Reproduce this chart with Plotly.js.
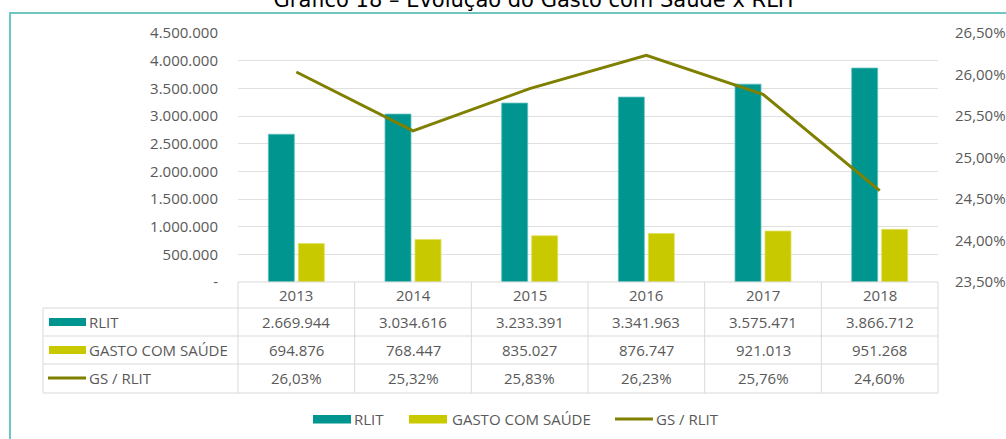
<!DOCTYPE html>
<html><head><meta charset="utf-8">
<script src="https://cdn.plot.ly/plotly-3.0.1.min.js"></script>
<style>html,body{margin:0;padding:0;background:#fff;overflow:hidden;} #chart{width:1006px;height:439px;}</style>
</head><body><div id="chart"></div>
<script>
// ---- data ----
const years = ['2013', '2014', '2015', '2016', '2017', '2018'];
const rlit = [2669944, 3034616, 3233391, 3341963, 3575471, 3866712];
const gastoSaude = [694876, 768447, 835027, 876747, 921013, 951268];
const gsRlit = [26.03, 25.32, 25.83, 26.23, 25.76, 24.60];
const seriesNames = ['RLIT', 'GASTO COM SAÚDE', 'GS / RLIT'];
const leftTickVals = [0, 500000, 1000000, 1500000, 2000000, 2500000, 3000000, 3500000, 4000000, 4500000];
const leftTickText = ['-', '500.000', '1.000.000', '1.500.000', '2.000.000', '2.500.000', '3.000.000', '3.500.000', '4.000.000', '4.500.000'];
const rightTickVals = [23.5, 24.0, 24.5, 25.0, 25.5, 26.0, 26.5];
const rightTickText = ['23,50%', '24,00%', '24,50%', '25,00%', '25,50%', '26,00%', '26,50%'];
const titleText = 'Gráfico 18 – Evolução do Gasto com Saúde x RLIT';

// ---- style ----
const TEAL = '#00968F', YELLOW = '#C9C900', OLIVE = '#7F7F00';
const GRAY = '#595959', GRID = '#E0E0E0', TBL = '#D9D9D9', FRAME = '#6EC6C3';
const FONT = 'Open Sans, Lato, sans-serif';

// layout geometry (pixels)
const L = 238, R = 938, T = 33, B = 282;
const px = p => (p - L) / (R - L);
const py = p => (B - p) / (B - T);
const colX = i => (i + 0.5) / years.length;   // centre of category column in paper units

const fmtInt = v => String(v).replace(/\B(?=(\d{3})+(?!\d))/g, '.');
const fmtPct = v => v.toFixed(2).replace('.', ',') + '%';

const traces = [
  {type: 'bar', name: seriesNames[0], x: years, y: rlit, marker: {color: TEAL, line: {color: '#5FC2BD', width: 0.8}}, yaxis: 'y', showlegend: false, hoverinfo: 'skip'},
  {type: 'bar', name: seriesNames[1], x: years, y: gastoSaude, marker: {color: YELLOW, line: {color: '#E0E060', width: 0.8}}, yaxis: 'y', showlegend: false, hoverinfo: 'skip'},
  {type: 'scatter', mode: 'lines', name: seriesNames[2], x: years, y: gsRlit, line: {color: OLIVE, width: 3}, yaxis: 'y2', showlegend: false, hoverinfo: 'skip'}
];

const shapes = [];
const annotations = [];
const line = (x0, y0, x1, y1, color, width) => ({type: 'line', xref: 'paper', yref: 'paper', x0, y0, x1, y1, line: {color: color, width: width}, layer: 'above'});

// outer frame
shapes.push({type: 'rect', xref: 'paper', yref: 'paper', x0: px(10), y0: py(13), x1: px(1040), y1: py(470), line: {color: FRAME, width: 2}, layer: 'above'});

// table lines
shapes.push(line(px(L), py(282), px(R), py(282), TBL, 1));
[308, 336, 364, 393].forEach(y => shapes.push(line(px(43), py(y), px(R), py(y), TBL, 1)));
shapes.push(line(px(43), py(308), px(43), py(393), TBL, 1));
for (let i = 0; i <= years.length; i++) shapes.push(line(i / years.length, py(282), i / years.length, py(393), TBL, 1));

// table content
const rowY = [295, 322, 350, 378];
const cellFont = {family: FONT, size: 15, color: GRAY};
const cell = (x, y, text, anchor) => ({xref: 'paper', yref: 'paper', x: x, y: y, text: text, showarrow: false, font: cellFont, xanchor: anchor, yanchor: 'middle'});
years.forEach((yr, i) => {
  annotations.push(cell(colX(i), py(rowY[0]), yr, 'center'));
  annotations.push(cell(colX(i), py(rowY[1]), fmtInt(rlit[i]), 'center'));
  annotations.push(cell(colX(i), py(rowY[2]), fmtInt(gastoSaude[i]), 'center'));
  annotations.push(cell(colX(i), py(rowY[3]), fmtPct(gsRlit[i]), 'center'));
});
// table row headers with swatches
shapes.push({type: 'rect', xref: 'paper', yref: 'paper', x0: px(49), x1: px(86), y0: py(318), y1: py(326), fillcolor: TEAL, line: {width: 0}});
shapes.push({type: 'rect', xref: 'paper', yref: 'paper', x0: px(49), x1: px(86), y0: py(346), y1: py(354), fillcolor: YELLOW, line: {width: 0}});
shapes.push(line(px(48), py(378), px(86), py(378), OLIVE, 3));
seriesNames.forEach((n, k) => annotations.push(cell(px(87), py(rowY[k + 1]), n, 'left')));

// bottom legend
const legY = 419;
shapes.push({type: 'rect', xref: 'paper', yref: 'paper', x0: px(313), x1: px(351), y0: py(415), y1: py(423.5), fillcolor: TEAL, line: {width: 0}});
shapes.push({type: 'rect', xref: 'paper', yref: 'paper', x0: px(409), x1: px(447), y0: py(415), y1: py(423.5), fillcolor: YELLOW, line: {width: 0}});
shapes.push(line(px(615), py(legY), px(653), py(legY), OLIVE, 3));
[[352, 0], [450, 1], [654, 2]].forEach(([x, k]) => annotations.push(cell(px(x), py(legY), seriesNames[k], 'left')));

const layout = {
  width: 1006, height: 439,
  margin: {l: L, r: 1006 - R, t: T, b: 439 - B, pad: 0},
  paper_bgcolor: '#fff', plot_bgcolor: '#fff',
  title: {text: titleText, font: {family: 'DejaVu Sans, sans-serif', size: 21, color: '#000'}, x: 0.532, xanchor: 'center', y: 1.0, yref: 'container', yanchor: 'middle'},
  barmode: 'group', bargap: 0.486, bargroupgap: 0.133,
  xaxis: {type: 'category', range: [-0.5, 5.5], showticklabels: false, showgrid: false, zeroline: false, showline: false, ticks: '', fixedrange: true},
  yaxis: {range: [0, 4500000], tickvals: leftTickVals, ticktext: leftTickText, showgrid: true, gridcolor: GRID, gridwidth: 1, zeroline: false, showline: false, ticks: '', ticklabelstandoff: 19, tickfont: {family: FONT, size: 15, color: GRAY}, fixedrange: true},
  yaxis2: {range: [23.5, 26.5], overlaying: 'y', side: 'right', tickvals: rightTickVals, ticktext: rightTickText, showgrid: false, zeroline: false, showline: false, ticks: '', ticklabelstandoff: 16, tickfont: {family: FONT, size: 15, color: GRAY}, fixedrange: true},
  shapes: shapes,
  annotations: annotations,
  showlegend: false
};

Plotly.newPlot('chart', traces, layout, {displayModeBar: false, staticPlot: true});
</script>
</body></html>
